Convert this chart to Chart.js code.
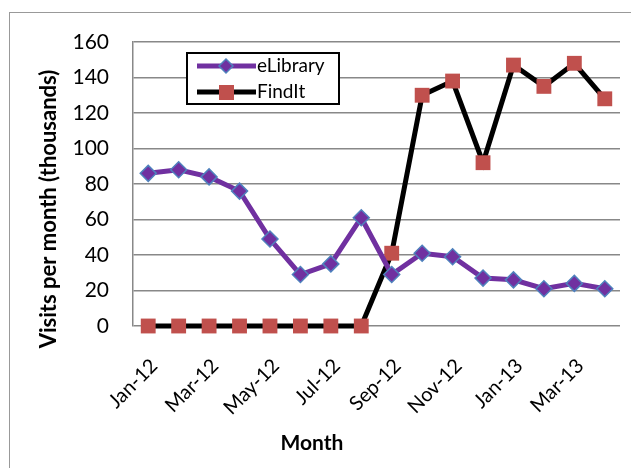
<!DOCTYPE html>
<html>
<head>
<meta charset="utf-8">
<script src="https://cdn.jsdelivr.net/npm/chart.js@4"></script>
<style>
  body { margin: 0; background: #fff; }
  #wrap { position: relative; width: 631px; height: 468px; overflow: hidden; }
  #frame { position: absolute; left: 9px; top: 12px; width: 700px; height: 600px; border: 1px solid #999; }
  canvas { position: absolute; left: 0; top: 0; }
</style>
</head>
<body>
<div id="wrap">
  <div id="frame"></div>
  <canvas id="myChart" width="631" height="468"></canvas>
</div>
<script>
var months = ['Jan-12','Feb-12','Mar-12','Apr-12','May-12','Jun-12','Jul-12','Aug-12',
              'Sep-12','Oct-12','Nov-12','Dec-12','Jan-13','Feb-13','Mar-13','Apr-13'];
var eLibrary = [86, 88, 84, 76, 49, 29, 35, 61, 29, 41, 39, 27, 26, 21, 24, 21];
var findIt = [0, 0, 0, 0, 0, 0, 0, 0, 41, 130, 138, 92, 147, 135, 148, 128];
var yTicks = [0, 20, 40, 60, 80, 100, 120, 140, 160];
var xTitle = 'Month';
var yTitle = 'Visits per month (thousands)';

var font = 'Lato, Calibri, sans-serif';

// axis titles centred like Excel does it, not on the scale
var axisTitles = {
    id: 'axisTitles',
    afterDraw: function(chart) {
        var c = chart.ctx;
        c.save();
        c.fillStyle = '#000';
        c.font = 'bold 22px ' + font;
        c.textAlign = 'center';
        c.textBaseline = 'middle';
        c.translate(49, 209);
        c.rotate(-Math.PI / 2);
        c.fillText(yTitle, 0, 0);
        c.restore();
        c.save();
        c.fillStyle = '#000';
        c.font = 'bold 21px ' + font;
        c.textAlign = 'center';
        c.textBaseline = 'middle';
        c.fillText(xTitle, 312, 443);
        c.restore();
    }
};

// legend box drawn inside the plot area
var boxLegend = {
    id: 'boxLegend',
    afterDraw: function(chart) {
        var c = chart.ctx;
        var x = 187, y = 53, w = 152, h = 51;
        c.save();
        c.fillStyle = '#fff';
        c.fillRect(x, y, w, h);
        c.strokeStyle = '#000';
        c.lineWidth = 2;
        c.strokeRect(x, y, w, h);
        chart.data.datasets.forEach(function(ds, i) {
            var ly = y + 13 + i * 26;
            c.strokeStyle = ds.borderColor;
            c.lineWidth = 5;
            c.beginPath();
            c.moveTo(197, ly);
            c.lineTo(256, ly);
            c.stroke();
            if (i == 0) {
                c.fillStyle = ds.pointBackgroundColor;
                c.strokeStyle = ds.pointBorderColor;
                c.lineWidth = 1.5;
                c.beginPath();
                c.moveTo(226, ly - 7); c.lineTo(233, ly); c.lineTo(226, ly + 7); c.lineTo(219, ly);
                c.closePath();
                c.fill(); c.stroke();
            } else {
                c.fillStyle = ds.pointBackgroundColor;
                c.fillRect(219, ly - 7, 15, 15);
            }
            c.fillStyle = '#000';
            c.font = '19px ' + font;
            c.textBaseline = 'middle';
            c.fillText(ds.label, 257, ly);
        });
        c.restore();
    }
};

var ctx = document.getElementById('myChart');
var myChart = new Chart(ctx, {
    type: 'line',
    data: {
        labels: months,
        datasets: [{
            label: 'eLibrary',
            data: eLibrary,
            borderColor: '#7030A0',
            borderWidth: 5,
            pointStyle: 'rectRot',
            pointRadius: 8,
            pointBackgroundColor: '#7030A0',
            pointBorderColor: '#4F81BD',
            pointBorderWidth: 1.5,
            tension: 0,
            clip: false
        }, {
            label: 'FindIt',
            data: findIt,
            borderColor: '#000000',
            borderWidth: 5,
            pointStyle: 'rect',
            pointRadius: 10.5,
            pointBackgroundColor: '#C0504D',
            pointBorderColor: '#C0504D',
            pointBorderWidth: 0,
            tension: 0,
            clip: false
        }]
    },
    options: {
        responsive: false,
        animation: false,
        layout: { padding: { left: 0, top: 42, right: 11, bottom: 0 } },
        plugins: {
            legend: { display: false },
            tooltip: { enabled: false }
        },
        scales: {
            x: {
                offset: true,
                grid: { display: false },
                border: { display: false },
                ticks: {
                    autoSkip: false,
                    maxRotation: 45,
                    minRotation: 45,
                    labelOffset: 6,
                    padding: 20,
                    color: '#000',
                    font: { family: font, size: 20 },
                    callback: function(v, i) { return i % 2 == 0 ? months[i] : ''; }
                },
                afterFit: function(s) {
                    s.height = 142;
                    s.paddingLeft = 0;
                    s.paddingRight = 0;
                }
            },
            y: {
                min: 0,
                max: 160,
                afterBuildTicks: function(s) { s.ticks = yTicks.map(function(v) { return { value: v }; }); },
                grid: { color: '#888', lineWidth: 1.5, drawTicks: false },
                border: { color: '#888', width: 1.5 },
                ticks: {
                    padding: 24,
                    color: '#000',
                    font: { family: font, size: 21 }
                },
                afterFit: function(s) { s.width = 133; }
            }
        }
    },
    plugins: [axisTitles, boxLegend]
});
</script>
</body>
</html>
